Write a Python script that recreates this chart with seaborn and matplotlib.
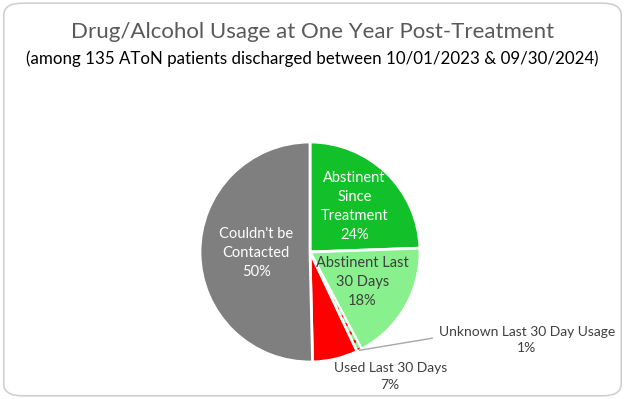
import matplotlib
matplotlib.use("Agg")
import matplotlib.pyplot as plt
import numpy as np
import seaborn as sns
from matplotlib.patches import FancyBboxPatch, Wedge

sns.set_theme(style="white")
plt.rcParams["font.family"] = ["Lato", "DejaVu Sans"]
plt.rcParams["hatch.linewidth"] = 1.6

# data: patient counts (135 total)
CATEGORIES = [
    "Abstinent\nSince\nTreatment",
    "Abstinent Last\n30 Days",
    "Unknown Last 30 Day Usage",
    "Used Last 30 Days",
    "Couldn't be\nContacted",
]
COUNTS = [33, 24, 1, 9, 68]
COLORS = ["#12C12A", "#88F08C", "#88F08C", "#FF0000", "#7F7F7F"]
TITLE = "Drug/Alcohol Usage at One Year Post-Treatment"
SUBTITLE = "(among 135 AToN patients discharged between 10/01/2023 & 09/30/2024)"

fig = plt.figure(figsize=(6.25, 3.99), dpi=100)
fig.patch.set_facecolor("white")

# rounded chart border
border = FancyBboxPatch(
    (0.006, 0.008), 0.988, 0.984,
    boxstyle="round,pad=0,rounding_size=0.03",
    transform=fig.transFigure, facecolor="none", edgecolor="#D0D0D0", linewidth=1.2,
)
fig.patches.append(border)

fig.text(0.5, 0.92, TITLE, ha="center", va="center", fontsize=16, color="#595959")
fig.text(0.5, 0.852, SUBTITLE, ha="center", va="center", fontsize=12.2, color="black")

# pie axes: 220 px square centred at (310, 252) px
ax = fig.add_axes([200 / 625, (399 - 252 - 110) / 399, 220 / 625, 220 / 399])
wedges, _ = ax.pie(
    COUNTS,
    colors=COLORS,
    startangle=90,
    counterclock=False,
    radius=1,
    wedgeprops=dict(edgecolor="white", linewidth=2),
)
ax.set_xlim(-1, 1)
ax.set_ylim(-1, 1)
ax.set_aspect("equal")
ax.axis("off")

# dotted pattern for the unknown slice
unk = wedges[2]
unk.set_hatch("..")
unk.set_edgecolor("#FF0000")
unk.set_linewidth(0)
ax.add_patch(Wedge(unk.center, unk.r, unk.theta1, unk.theta2,
                   facecolor="none", edgecolor="white", linewidth=1.4))

total = sum(COUNTS)
pcts = [f"{round(100 * c / total)}%" for c in COUNTS]
inside = {0: (0.58, "white"), 1: (0.55, "#404040"), 4: (0.49, "white")}

for i, w in enumerate(wedges):
    mid = np.deg2rad((w.theta1 + w.theta2) / 2)
    if i in inside:
        dist, col = inside[i]
        ax.text(dist * np.cos(mid), dist * np.sin(mid), f"{CATEGORIES[i]}\n{pcts[i]}",
                ha="center", va="center", fontsize=10.5, color=col, linespacing=1.45)

# outside labels
mid_u = np.deg2rad((wedges[2].theta1 + wedges[2].theta2) / 2)
ax.annotate(
    f"{CATEGORIES[2]}\n{pcts[2]}",
    xy=(np.cos(mid_u), np.sin(mid_u)),
    xytext=(1.97, -0.8),
    ha="center", va="center", fontsize=10, color="#404040", linespacing=1.45,
    arrowprops=dict(arrowstyle="-", color="#A6A6A6", lw=1, relpos=(0, 0.6),
                    shrinkA=2, shrinkB=0),
    annotation_clip=False,
)
ax.text(0.73, -1.13, f"{CATEGORIES[3]}\n{pcts[3]}", ha="center", va="center",
        fontsize=10, color="#404040", linespacing=1.45)

fig.savefig("out.png", dpi=100, facecolor="white")
